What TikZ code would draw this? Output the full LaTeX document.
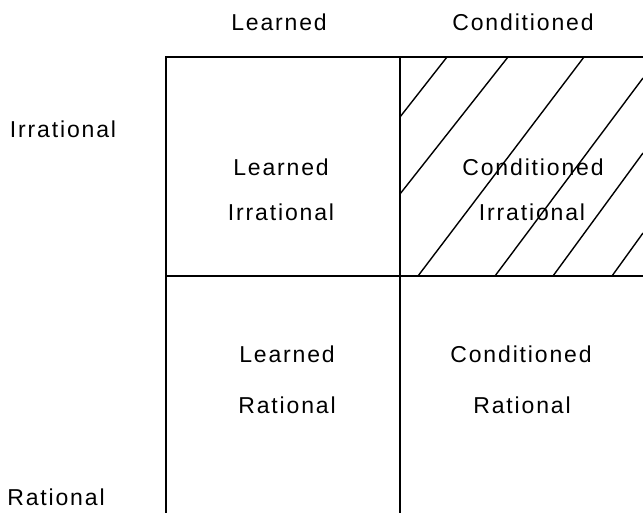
\documentclass[tikz,border=0pt]{standalone}
\usepackage{fontspec}
\setmainfont[LetterSpace=8]{Liberation Sans}
\usepackage{tikz}

\begin{document}
\begin{tikzpicture}[x=1pt,y=-1pt]
\tikzset{lab/.style={font=\fontsize{23}{27}\selectfont, inner sep=0pt}}

\useasboundingbox (0,0) rectangle (643,513);

\draw[line width=2] (166,513)--(166,57)--(643,57);
\draw[line width=2] (400,57)--(400,513);
\draw[line width=2] (166,276)--(643,276);

\draw[line width=1.4] (400,117)--(447,57);
\draw[line width=1.4] (400,194)--(508,57);
\draw[line width=1.4] (418,276)--(584,57);
\draw[line width=1.4] (495,276)--(643,78);
\draw[line width=1.4] (553,276)--(643,153);
\draw[line width=1.4] (612,276)--(643,233);

\node[lab] (hlearned) at (279,22) {Learned};
\node[lab] (hcond) at (523,22) {Conditioned};
\node[lab] (sirr) at (63,129) {Irrational};
\node[lab] (srat) at (56,497) {Rational};

\node[lab] (li1) at (281,167) {Learned};
\node[lab] (li2) at (281,212) {Irrational};
\node[lab] (ci1) at (533,167) {Conditioned};
\node[lab] (ci2) at (532,212) {Irrational};
\node[lab] (lr1) at (287,354) {Learned};
\node[lab] (lr2) at (287,405) {Rational};
\node[lab] (cr1) at (521,354) {Conditioned};
\node[lab] (cr2) at (522,405) {Rational};

\end{tikzpicture}
\end{document}
